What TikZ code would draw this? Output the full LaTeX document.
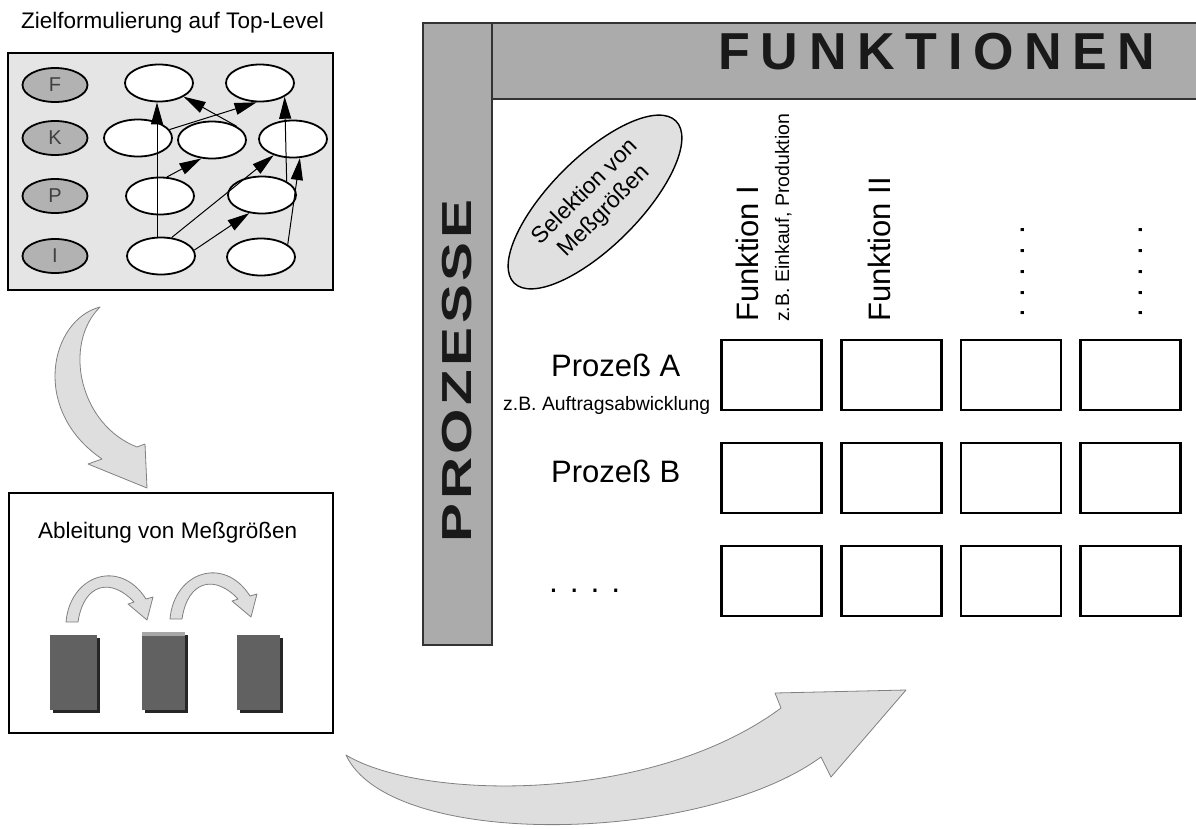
\documentclass[tikz,border=0pt]{standalone}
\usepackage{fontspec}
\setmainfont{Liberation Sans}
\usetikzlibrary{shapes.geometric,arrows.meta}
\begin{document}
\begin{tikzpicture}[x=1pt,y=-1pt,
  goal/.style={ellipse, draw, line width=1.8pt, fill=white, minimum width=68pt, minimum height=37pt, inner sep=0pt},
  cat/.style={ellipse, draw, line width=1.8pt, fill=black!30, minimum width=65pt, minimum height=34pt, inner sep=0pt, text=black!75, font=\fontsize{20}{20}\selectfont},
  lnk/.style={line width=1pt, -{Triangle[length=22pt,width=12pt]}},
  cell/.style={draw, line width=2.4pt, fill=white, minimum width=100pt, minimum height=70pt, inner sep=0pt},
  fat/.style={fill=black!13, draw=black!50, line width=0.8pt, line join=round},
  lbl/.style={anchor=base west, inner sep=0pt},
  vlbl/.style={rotate=90, anchor=base west, inner sep=0pt},
]
\useasboundingbox (0,0) rectangle (1196,828);

% ---------- top-left panel ----------
\node[lbl, font=\fontsize{22.5}{22.5}\selectfont] (t1) at (21,28) {Zielformulierung auf Top-Level};
\draw[fill=black!10, line width=1.5pt] (8,53) rectangle (333,290);

\node[cat] (F) at (55,85) {F};
\node[cat] (K) at (55,138) {K};
\node[cat] (P) at (55,196) {P};
\node[cat] (I) at (55,256) {I};

\node[goal] (A1) at (159,83) {};
\node[goal] (A2) at (260,83) {};
\node[goal] (B1) at (138,138) {};
\node[goal] (B2) at (212,140) {};
\node[goal] (B3) at (293,139) {};
\node[goal] (C1) at (160,196) {};
\node[goal] (C2) at (262,195) {};
\node[goal] (D1) at (161,256) {};
\node[goal] (D2) at (261,257) {};

\draw[lnk] (D1.north -| 157,0) -- (A1.south -| 157,0);
\draw[lnk] (B2.north east) -- (A1.south east);
\draw[lnk] (B1.15) -- (A2.260);
\draw[lnk] (C1.70) -- (B2.240);
\draw[lnk] (D1.60) -- (B3.220);
\draw[lnk] (D1.10) -- (C2.235);
\draw[lnk] (C2.north east) -- (A2.south east);
\draw[lnk] (D2.25) -- (B3.290);

% ---------- curved arrow down ----------
\path[fat] (100,307) .. controls (50,320) and (30,410) .. (102,459)
  -- (88,464) -- (147,488) -- (145,444) -- (137,447)
  .. controls (80,425) and (62,345) .. (100,307) -- cycle;

% ---------- bottom-left panel ----------
\draw[line width=2pt] (9,493) rectangle (333,733);
\node[lbl, font=\fontsize{22.5}{22.5}\selectfont] (t2) at (38,538) {Ableitung von Meßgrößen};

\path[fat] (66,622) .. controls (70,575) and (120,558) .. (146,599)
  -- (153,597) -- (147,620) -- (128,604) -- (134,602)
  .. controls (112,578) and (84,582) .. (78,622) -- cycle;
\begin{scope}[shift={(104,-3)}]
\path[fat] (66,622) .. controls (70,575) and (120,558) .. (146,599)
  -- (153,597) -- (147,620) -- (128,604) -- (134,602)
  .. controls (112,578) and (84,582) .. (78,622) -- cycle;
\end{scope}

\fill[black!85] (53,638) rectangle (100,713);
\fill[black!62] (50,635) rectangle (97,710);
\fill[black!85] (145,635) rectangle (188,713);
\fill[black!62] (142,632) rectangle (185,710);
\fill[black!35] (142,632) rectangle (185,636);
\fill[black!85] (240,638) rectangle (283,713);
\fill[black!62] (237,635) rectangle (280,710);

% ---------- big curved arrow ----------
\path[fat] (346,755) .. controls (420,800) and (650,805) .. (781,708)
  -- (775,693) -- (906,690) -- (831,777) -- (821,757)
  .. controls (700,845) and (390,850) .. (346,755) -- cycle;

% ---------- matrix frame ----------
\fill[black!33] (492,23) rectangle (1196,99);
\draw[line width=1.6pt, black!80] (492,23) -- (1196,23);
\draw[line width=2.2pt, black!80] (492,99) -- (1196,99);
\draw[fill=black!33, draw=black!80, line width=1.6pt] (423,23) rectangle (492,645);

\node[font=\fontsize{52}{52}\selectfont\bfseries, text=black!90, inner sep=0pt] (fk) at (937,51.5)
  {F\kern10.7pt U\kern10.7pt N\kern10.7pt K\kern10.7pt T\kern10.7pt I\kern10.7pt O\kern10.7pt N\kern10.7pt E\kern10.7pt N};
\node[rotate=90, font=\fontsize{42}{42}\selectfont\bfseries, text=black!90, inner sep=0pt] (pz) at (457,371)
  {\scalebox{1.39}[1]{P\kern2.5pt R\kern2.5pt O\kern2.5pt Z\kern2.5pt E\kern2.5pt S\kern2.5pt S\kern2.5pt E}};

\node[ellipse, draw, line width=1.4pt, fill=black!12, minimum width=229pt, minimum height=89pt, inner sep=0pt,
  rotate=45, align=center, font=\fontsize{23}{27}\selectfont] (sel) at (595,202) {Selektion von\\Meßgrößen};

\node[vlbl, font=\fontsize{31}{31}\selectfont] (f1) at (758,322) {Funktion I};
\node[vlbl, font=\fontsize{19.5}{19.5}\selectfont] (f1e) at (789,322) {z.B. Einkauf, Produktion};
\node[vlbl, font=\fontsize{31}{31}\selectfont] (f2) at (890,322) {Funktion II};
\node[vlbl, font=\fontsize{32}{32}\selectfont] (f3) at (1024,318) {. . . . .};
\node[vlbl, font=\fontsize{32}{32}\selectfont] (f4) at (1142,318) {. . . . .};

\node[lbl, font=\fontsize{31}{31}\selectfont] (pa) at (551,376) {Prozeß A};
\node[lbl, font=\fontsize{19.4}{19.4}\selectfont] (pae) at (503,410) {z.B. Auftragsabwicklung};
\node[lbl, font=\fontsize{31}{31}\selectfont] (pb) at (551,482) {Prozeß B};
\node[lbl, font=\fontsize{32}{32}\selectfont] (pc) at (549,592) {. . . .};

\foreach \r/\y in {1/375,2/478,3/581}{
  \foreach \c/\x in {1/771.5,2/891.5,3/1011,4/1130.5}{
    \node[cell] (m\r\c) at (\x,\y) {};
  }
}
\end{tikzpicture}
\end{document}
